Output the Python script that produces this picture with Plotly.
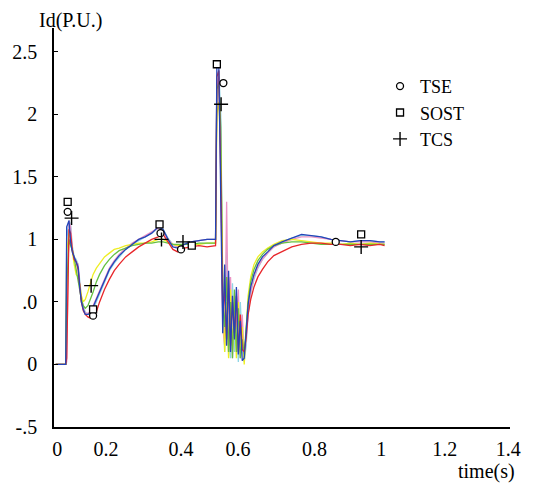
import plotly.graph_objects as go

# shared time grid (s)
T = [0.005, 0.036, 0.039, 0.046, 0.051, 0.056, 0.062, 0.068, 0.074, 0.079,
     0.084, 0.090, 0.096, 0.104, 0.112, 0.120, 0.130, 0.140, 0.155, 0.170,
     0.185, 0.200, 0.220, 0.240, 0.260, 0.280, 0.300, 0.320, 0.335, 0.350,
     0.365, 0.380, 0.400, 0.420, 0.445, 0.470, 0.496, 0.500, 0.506, 0.512,
     0.518, 0.524, 0.530, 0.536, 0.542, 0.548, 0.554, 0.560, 0.566, 0.572,
     0.578, 0.584, 0.590, 0.596, 0.604, 0.614, 0.626, 0.640, 0.656, 0.675,
     0.700, 0.730, 0.760, 0.790, 0.820, 0.850, 0.880, 0.910, 0.940, 0.970,
     1.000, 1.015]

cyan = [0, 0, 1.0, 1.15, 1.12, 0.95, 0.86, 0.84, 0.80, 0.66,
        0.54, 0.46, 0.42, 0.40, 0.40, 0.44, 0.50, 0.57, 0.66, 0.75,
        0.81, 0.86, 0.92, 0.96, 0.99, 1.02, 1.05, 1.09, 1.08, 1.01,
        0.96, 0.94, 0.97, 0.98, 0.99, 1.00, 1.00, 2.3, 2.35, 2.0,
        0.6, 0.1, 0.9, 0.2, 0.05, 0.65, 0.1, 0.4, 0.02, 0.5,
        0.15, 0.02, 0.15, 0.40, 0.57, 0.68, 0.77, 0.84, 0.89, 0.94,
        0.98, 1.01, 1.03, 1.03, 1.02, 1.00, 0.99, 0.98, 0.99, 0.99,
        0.98, 0.98]

pink = [0, 0, 0.02, 1.15, 1.10, 0.92, 0.85, 0.82, 0.80, 0.64,
        0.52, 0.45, 0.41, 0.41, 0.42, 0.47, 0.53, 0.60, 0.69, 0.77,
        0.83, 0.88, 0.93, 0.97, 1.00, 1.03, 1.06, 1.09, 1.06, 1.00,
        0.96, 0.94, 0.96, 0.98, 0.99, 1.00, 1.00, 2.2, 2.3, 1.8,
        0.3, 0.15, 1.30, 0.1, 0.7, 0.05, 0.5, 0.3, 0.6, 0.05,
        0.4, 0.06, 0.2, 0.42, 0.58, 0.70, 0.78, 0.84, 0.89, 0.94,
        0.97, 1.00, 1.02, 1.02, 1.01, 1.00, 0.99, 0.98, 0.98, 0.98,
        0.97, 0.97]

yellow = [0, 0, 0.9, 1.05, 1.0, 0.90, 0.80, 0.72, 0.70, 0.64,
          0.55, 0.50, 0.52, 0.58, 0.66, 0.72, 0.77, 0.81, 0.86, 0.89,
          0.92, 0.93, 0.95, 0.96, 0.97, 0.97, 0.98, 1.00, 1.00, 0.98,
          0.96, 0.95, 0.96, 0.96, 0.96, 0.97, 0.97, 2.0, 2.1, 1.7,
          0.7, 0.1, 0.5, 0.05, 0.6, 0.12, 0.45, 0.05, 0.5, 0.1,
          0.3, 0.0, 0.30, 0.55, 0.70, 0.80, 0.86, 0.90, 0.93, 0.96,
          0.99, 1.0, 0.99, 0.98, 0.97, 0.97, 0.96, 0.97, 0.96, 0.97,
          0.96, 0.96]

green = [0, 0, 0.6, 1.0, 0.95, 0.92, 0.85, 0.76, 0.70, 0.60,
         0.52, 0.47, 0.45, 0.47, 0.52, 0.58, 0.66, 0.72, 0.79, 0.84,
         0.88, 0.91, 0.93, 0.95, 0.96, 0.97, 0.97, 0.98, 0.98, 0.97,
         0.96, 0.96, 0.96, 0.96, 0.97, 0.97, 0.97, 2.2, 2.25, 1.9,
         0.5, 0.3, 0.7, 0.1, 0.5, 0.05, 0.6, 0.1, 0.45, 0.05,
         0.2, 0.08, 0.28, 0.50, 0.66, 0.76, 0.83, 0.88, 0.92, 0.95,
         0.97, 0.98, 0.98, 0.97, 0.96, 0.96, 0.96, 0.96, 0.96, 0.96,
         0.96, 0.96]

red = [0, 0, 0.05, 1.08, 1.05, 0.92, 0.84, 0.82, 0.76, 0.60,
       0.50, 0.43, 0.40, 0.38, 0.37, 0.38, 0.42, 0.50, 0.60, 0.68,
       0.75, 0.80, 0.86, 0.90, 0.94, 0.97, 1.00, 1.02, 1.04, 0.98,
       0.92, 0.90, 0.93, 0.94, 0.95, 0.94, 0.95, 2.30, 2.35, 1.5,
       0.4, 0.6, 0.2, 0.7, 0.15, 0.5, 0.25, 0.55, 0.10, 0.40,
       0.12, 0.10, 0.22, 0.40, 0.52, 0.62, 0.70, 0.76, 0.82, 0.87,
       0.90, 0.94, 0.96, 0.97, 0.97, 0.96, 0.96, 0.95, 0.96, 0.95,
       0.96, 0.95]

blue = [0, 0, 1.10, 1.15, 0.98, 0.90, 0.86, 0.82, 0.78, 0.62,
        0.50, 0.44, 0.40, 0.40, 0.41, 0.46, 0.52, 0.58, 0.67, 0.76,
        0.82, 0.87, 0.92, 0.96, 1.00, 1.02, 1.05, 1.10, 1.08, 1.00,
        0.94, 0.93, 0.96, 0.98, 0.99, 1.00, 1.00, 2.38, 2.40, 1.20,
        0.25, 0.80, 0.15, 0.75, 0.10, 0.55, 0.20, 0.62, 0.08, 0.35,
        0.03, 0.05, 0.25, 0.48, 0.62, 0.72, 0.80, 0.86, 0.90, 0.95,
        0.98, 1.01, 1.04, 1.03, 1.02, 1.00, 0.99, 0.98, 0.99, 0.99,
        0.98, 0.98]

# method markers
tse_x = [0.042, 0.120, 0.327, 0.390, 0.520, 0.865]
tse_y = [1.22, 0.39, 1.05, 0.92, 2.25, 0.98]
sost_x = [0.042, 0.120, 0.324, 0.423, 0.500, 0.943]
sost_y = [1.30, 0.44, 1.12, 0.95, 2.40, 1.04]
tcs_x = [0.054, 0.114, 0.330, 0.396, 0.513, 0.943]
tcs_y = [1.17, 0.63, 1.00, 0.98, 2.08, 0.94]

xtick_vals = [0.01, 0.16, 0.39, 0.565, 0.80, 1.005, 1.20, 1.395]
xtick_text = ["0", "0.2", "0.4", "0.6", "0.8", "1", "1.2", "1.4"]
ytick_vals = [-0.5, 0, 0.5, 1, 1.5, 2, 2.5]
ytick_text = ["-.5", "0", ".0", "1", "1.5", "2", "2.5"]

FONT = "Liberation Serif, Times New Roman, serif"

fig = go.Figure()
series = [(cyan, "#8fd6e6"), (pink, "#ec94c4"), (yellow, "#eeee22"),
          (green, "#66c040"), (red, "#e8262a"), (blue, "#2443b8")]
for ys, col in series:
    fig.add_trace(go.Scatter(x=T, y=ys, mode="lines", line=dict(color=col, width=1.3),
                             showlegend=False, hoverinfo="skip"))

fig.add_trace(go.Scatter(x=tse_x, y=tse_y, mode="markers", name="TSE",
                         marker=dict(symbol="circle", size=7, color="white",
                                     line=dict(color="black", width=1.3))))
fig.add_trace(go.Scatter(x=sost_x, y=sost_y, mode="markers", name="SOST",
                         marker=dict(symbol="square", size=7, color="white",
                                     line=dict(color="black", width=1.3))))
fig.add_trace(go.Scatter(x=tcs_x, y=tcs_y, mode="markers", name="TCS",
                         marker=dict(symbol="cross-thin", size=10, color="black",
                                     line=dict(color="black", width=1.4))))

fig.update_layout(
    width=533, height=486,
    margin=dict(l=52, r=15, t=28, b=59),
    paper_bgcolor="white", plot_bgcolor="white",
    font=dict(family=FONT, size=20, color="black"),
    legend=dict(x=0.715, y=0.90, xanchor="left", yanchor="top",
                bgcolor="rgba(0,0,0,0)", font=dict(family=FONT, size=18)),
    xaxis=dict(range=[0, 1.4], showgrid=False, zeroline=False,
               showline=True, linecolor="black", linewidth=1.5,
               tickvals=xtick_vals, ticktext=xtick_text, ticks="",
               ticklabelstandoff=3, tickfont=dict(size=20)),
    yaxis=dict(range=[-0.5, 2.69], showgrid=False, zeroline=False,
               showline=True, linecolor="black", linewidth=1.5,
               tickvals=ytick_vals, ticktext=ytick_text, ticks="inside",
               ticklen=4, tickcolor="black", ticklabelstandoff=11,
               tickfont=dict(size=20)),
    annotations=[
        dict(text="Id(P.U.)", xref="paper", yref="paper", x=(35 - 52) / 466,
             y=(427 - 21) / 399, xanchor="left", yanchor="middle",
             showarrow=False, font=dict(family=FONT, size=20)),
        dict(text="time(s)", xref="paper", yref="paper", x=(525 - 52) / 466,
             y=(427 - 471) / 399, xanchor="right", yanchor="middle",
             showarrow=False, font=dict(family=FONT, size=20)),
    ],
)

fig.write_html("out.html")
